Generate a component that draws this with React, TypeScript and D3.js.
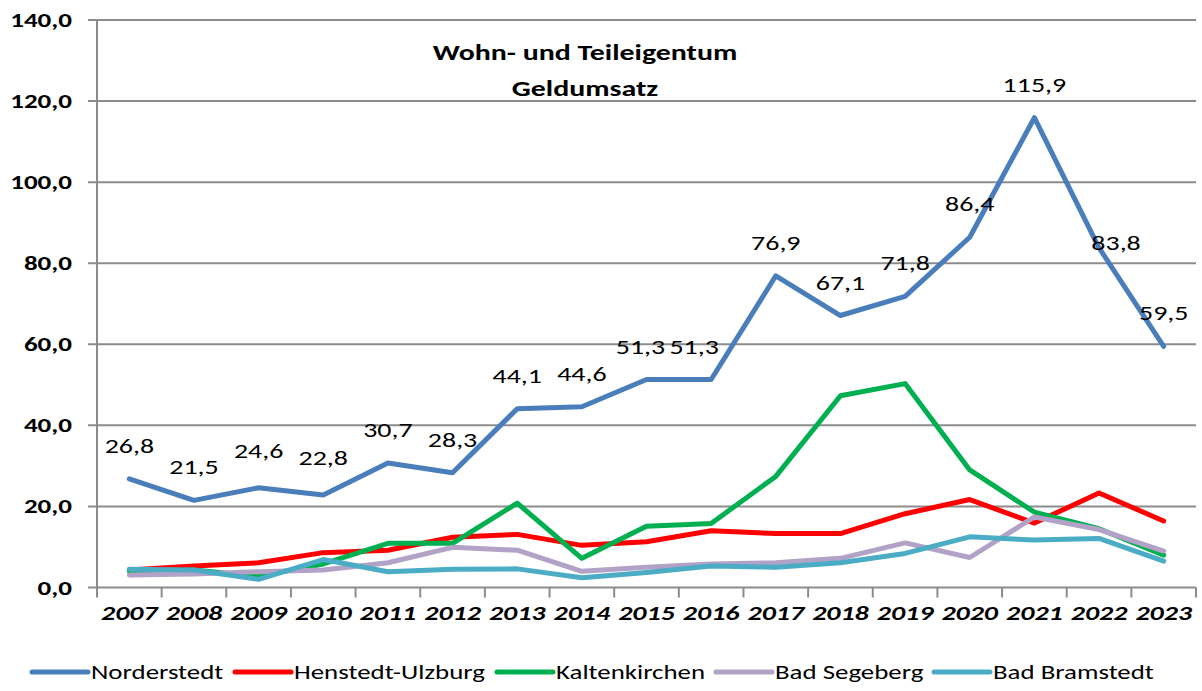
import React from "react";
import * as d3 from "d3";

const years = ["2007","2008","2009","2010","2011","2012","2013","2014","2015","2016","2017","2018","2019","2020","2021","2022","2023"];
const norderstedt = [26.8,21.5,24.6,22.8,30.7,28.3,44.1,44.6,51.3,51.3,76.9,67.1,71.8,86.4,115.9,83.8,59.5];
const henstedtUlzburg = [4.3,5.3,6.1,8.6,9.2,12.4,13.1,10.4,11.3,14.0,13.3,13.3,18.2,21.7,15.9,23.3,16.4];
const kaltenkirchen = [4.0,4.3,2.8,5.8,10.9,10.9,20.8,7.2,15.1,15.8,27.4,47.3,50.3,29.0,18.6,14.5,8.0];
const badSegeberg = [3.1,3.3,3.9,4.3,6.1,9.9,9.2,4.0,5.0,5.8,6.1,7.2,11.0,7.4,17.4,14.3,9.0];
const badBramstedt = [4.5,4.3,2.0,6.9,3.9,4.5,4.6,2.4,3.7,5.3,5.0,6.1,8.4,12.5,11.7,12.1,6.5];
const yTicks = [0,20,40,60,80,100,120,140];
const seriesNames = ["Norderstedt","Henstedt-Ulzburg","Kaltenkirchen","Bad Segeberg","Bad Bramstedt"];
const seriesColors = ["#4a7ebb","#ff0000","#00b050","#b3a2c7","#4bacc6"];
const titleLines = ["Wohn- und Teileigentum","Geldumsatz"];

// layout
const W = 1202, H = 691;
const M = { left: 97, right: 1196, top: 20, bottom: 587.5 };
const legendX = [32, 235, 497, 716, 934];
const labelNudge: Record<number, [number, number]> = { 2: [0, -4], 3: [0, -4], 8: [-6, 0], 9: [-17, 0], 15: [17, 28] };
const FONT = "Carlito, Calibri, Lato, sans-serif";
const GRID = "#8c8c8c";

const fmt = (v: number) => d3.format(".1f")(v).replace(".", ",");

function SText({ x, y, sx, anchor, size, weight, italic, children }: any) {
  return (
    <g transform={`translate(${x},${y})`}>
      <text
        transform={`scale(${sx},1)`}
        textAnchor={anchor}
        fontFamily={FONT}
        fontSize={size}
        fontWeight={weight || "normal"}
        fontStyle={italic ? "italic" : "normal"}
        fill="#000"
      >
        {children}
      </text>
    </g>
  );
}

export default function App() {
  const x = d3.scaleBand<string>().domain(years).range([M.left, M.right]).padding(0);
  const y = d3.scaleLinear().domain([0, 140]).range([M.bottom, M.top]);
  const cx = (yr: string) => (x(yr) as number) + x.bandwidth() / 2;
  const series = [norderstedt, henstedtUlzburg, kaltenkirchen, badSegeberg, badBramstedt];
  const line = d3
    .line<number>()
    .x((_, i) => cx(years[i]))
    .y((d) => y(d));
  const boundaries = years.map((yr) => x(yr) as number).concat([M.right]);

  return (
    <svg width={W} height={H} style={{ position: "absolute", left: 0, top: 0, background: "#fff" }}>
      {yTicks.map((t) => (
        <line key={"g" + t} x1={M.left - 9} x2={M.right} y1={y(t)} y2={y(t)} stroke={GRID} strokeWidth={2} />
      ))}
      <line x1={M.left} x2={M.left} y1={M.top} y2={M.bottom} stroke={GRID} strokeWidth={2} />
      {boundaries.map((b, i) => (
        <line key={"t" + i} x1={b} x2={b} y1={M.bottom} y2={M.bottom + 10} stroke={GRID} strokeWidth={2} />
      ))}
      {yTicks.map((t) => (
        <SText key={"yl" + t} x={72} y={y(t) + 7} sx={1.32} anchor="end" size={20.5} weight="bold">
          {fmt(t)}
        </SText>
      ))}
      {years.map((yr) => (
        <SText key={"xl" + yr} x={cx(yr)} y={620} sx={1.33} anchor="middle" size={21} weight="bold" italic>
          {yr}
        </SText>
      ))}
      {titleLines.map((t, i) => (
        <SText key={"ti" + i} x={585} y={60 + i * 36} sx={1.3} anchor="middle" size={23} weight="bold">
          {t}
        </SText>
      ))}
      {series.map((s, i) => (
        <path
          key={"s" + i}
          d={line(s) as string}
          fill="none"
          stroke={seriesColors[i]}
          strokeWidth={5}
          strokeLinejoin="round"
          strokeLinecap="round"
        />
      ))}
      {norderstedt.map((v, i) => {
        const n = labelNudge[i] || [0, 0];
        return (
          <SText key={"dl" + i} x={cx(years[i]) + n[0]} y={y(v) - 33 + 7 + n[1]} sx={1.33} anchor="middle" size={21}>
            {fmt(v)}
          </SText>
        );
      })}
      {seriesNames.map((name, i) => (
        <g key={"lg" + i}>
          <line
            x1={legendX[i]}
            x2={legendX[i] + 56}
            y1={672}
            y2={672}
            stroke={seriesColors[i]}
            strokeWidth={5}
            strokeLinecap="round"
          />
          <SText x={legendX[i] + 59} y={679} sx={1.28} anchor="start" size={21}>
            {name}
          </SText>
        </g>
      ))}
    </svg>
  );
}
